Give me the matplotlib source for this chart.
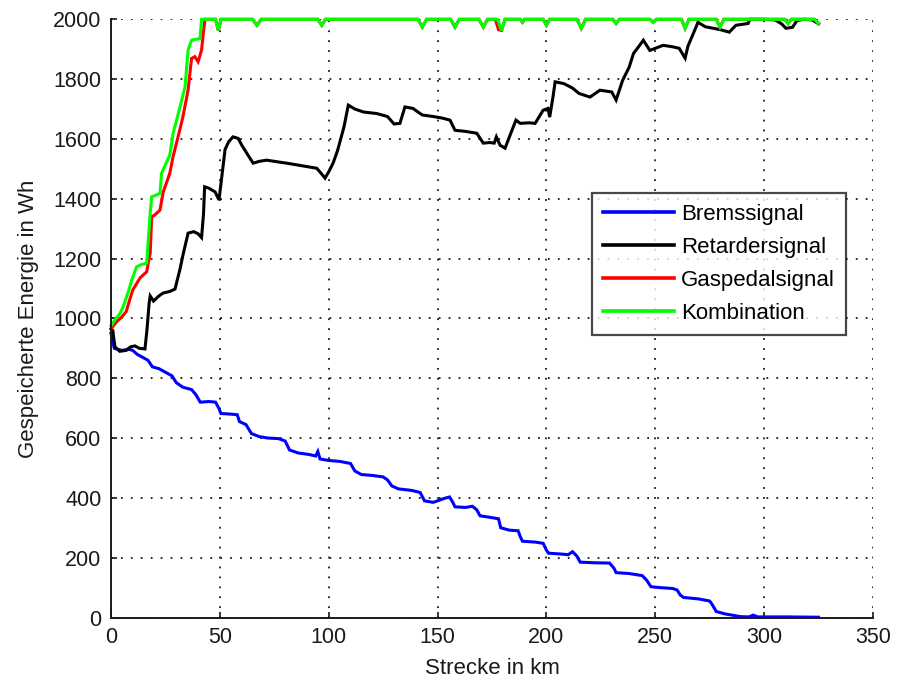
import matplotlib
matplotlib.use("Agg")
import matplotlib.pyplot as plt

plt.rcParams['font.family'] = ['Liberation Sans', 'DejaVu Sans']

# ---- data ----
brems_x = [0, 1.5, 5, 8, 10, 12, 15, 17, 19, 22, 25, 28, 30, 33, 37, 39, 41, 45, 48, 49.5, 50.5,
           55, 58, 59, 62, 64.5, 68, 72, 77, 80, 82, 86, 91, 94, 95, 96, 100, 105, 110, 112, 115,
           120, 125, 127, 129, 132, 138, 142, 144, 148, 150, 153, 155.5, 157, 158, 163, 166, 168,
           169.5, 174, 178, 179, 183, 187, 188, 189, 195, 198.5, 200, 201, 207, 210, 212, 214,
           215.5, 222, 229, 231, 232, 238, 244, 246, 248, 252, 258, 260, 261.5, 263, 270, 275,
           276, 278, 282, 286, 289, 293, 295, 297, 310, 325]
brems_y = [950, 900, 893, 897, 893, 880, 868, 860, 838, 832, 820, 808, 785, 770, 762, 745, 720,
           722, 720, 700, 682, 680, 678, 655, 645, 615, 605, 600, 598, 590, 560, 550, 545, 540,
           555, 530, 525, 522, 515, 490, 478, 475, 470, 460, 440, 430, 425, 418, 390, 385, 390,
           398, 403, 385, 370, 368, 372, 360, 340, 335, 330, 300, 292, 290, 270, 255, 252, 248,
           225, 215, 212, 210, 220, 205, 185, 183, 182, 165, 150, 147, 140, 125, 103, 100, 97,
           92, 75, 67, 62, 55, 45, 20, 12, 7, 3, 2, 8, 2, 2, 1]

retarder_x = [0, 0.8, 1.8, 4, 7, 9, 11, 13, 15.6, 16.5, 17.5, 18, 19.5, 22, 24, 27, 29.4, 30.5,
              31.7, 33, 35.4, 38, 40, 41.6, 42.5, 43, 45, 47.8, 49.6, 50.5, 52.4, 54, 56, 58.4,
              60, 63, 65.3, 68, 71.5, 76, 80.7, 88, 94.5, 96.5, 98.3, 100, 102, 104, 105, 107,
              109, 112, 116, 122, 127, 130, 132.7, 135, 138.7, 141, 143, 148, 152, 155.7, 158,
              163, 168, 171, 174, 176, 177, 178.7, 181, 183, 186, 188, 192, 194.8, 198.5, 200.7,
              201.5, 203, 204, 208, 212, 215, 220, 224.6, 230, 232, 235, 238, 240, 242, 244.5,
              247.5, 253.6, 258, 261, 263.7, 265, 267.5, 269.6, 273, 276.6, 280, 284, 287, 292.6,
              293.5, 300, 305, 308, 310, 313, 315, 318, 322, 325]
retarder_y = [965, 960, 905, 890, 893, 905, 908, 900, 898, 960, 1050, 1075, 1058, 1075, 1085,
              1090, 1098, 1130, 1165, 1210, 1285, 1290, 1283, 1270, 1350, 1440, 1435, 1423, 1396,
              1450, 1565, 1590, 1607, 1602, 1580, 1545, 1519, 1525, 1529, 1524, 1519, 1510, 1502,
              1485, 1469, 1490, 1519, 1560, 1586, 1640, 1713, 1700, 1690, 1685, 1675, 1650, 1652,
              1707, 1702, 1690, 1680, 1675, 1670, 1663, 1629, 1625, 1619, 1586, 1588, 1586, 1607,
              1579, 1569, 1607, 1663, 1652, 1654, 1652, 1696, 1702, 1673, 1740, 1791, 1785, 1770,
              1752, 1740, 1763, 1757, 1730, 1796, 1840, 1886, 1905, 1930, 1896, 1913, 1908, 1903,
              1870, 1910, 1953, 1990, 1975, 1970, 1965, 1957, 1980, 1986, 2000, 2000, 1998, 1985,
              1970, 1973, 1995, 2000, 1998, 1985]

gas_x = [0, 2.6, 5, 7, 8.5, 10, 13.3, 16.4, 17.5, 18, 18.7, 20, 22.5, 24, 27, 28.5, 30.8, 33,
         35.4, 37, 38.5, 40, 41.6, 42.5, 43.2, 48, 49.3, 50.5, 65, 67, 69, 95, 96.8, 98.5, 141,
         143, 145, 156, 158, 160, 169, 171, 173, 176.5, 178, 179.4, 181, 188, 189, 190, 198.5,
         200, 201.5, 214, 216, 218, 230.5, 232, 233.5, 247.5, 249, 250.5, 262, 263.7, 265.5,
         278, 279.7, 281.5, 309.5, 311, 312.5, 323, 325]
gas_y = [965, 989, 1005, 1023, 1060, 1095, 1135, 1156, 1200, 1218, 1340, 1345, 1362, 1423, 1485,
         1540, 1607, 1673, 1763, 1869, 1875, 1858, 1897, 1960, 2000, 2000, 1963, 2000, 2000,
         1980, 2000, 2000, 1980, 2000, 2000, 1974, 2000, 2000, 1974, 2000, 2000, 1974, 2000,
         2000, 1965, 1963, 2000, 2000, 1990, 2000, 2000, 1980, 2000, 2000, 1970, 2000, 2000,
         1986, 2000, 2000, 1990, 2000, 2000, 1970, 2000, 2000, 1974, 2000, 2000, 1986, 2000,
         2000, 1986]

komb_x = [0, 1.8, 4, 5.6, 8, 9.5, 11.8, 14, 16.4, 17.5, 18, 18.7, 20, 22.5, 23.2, 27, 28.5, 31.7,
          34, 35.4, 37, 40.9, 41.6, 48, 49.3, 50.5, 65, 67, 69, 95, 96.8, 98.5, 141, 143, 145,
          156, 158, 160, 169, 171, 173, 177.5, 179.4, 181, 188, 189, 190, 198.5, 200, 201.5,
          214, 216, 218, 230.5, 232, 233.5, 247.5, 249, 250.5, 262, 263.7, 265.5, 278, 279.7,
          281.5, 309.5, 311, 312.5, 323, 325]
komb_y = [975, 995, 1015, 1039, 1090, 1128, 1173, 1180, 1185, 1300, 1352, 1407, 1410, 1418,
          1485, 1546, 1618, 1707, 1774, 1897, 1930, 1936, 2000, 2000, 1963, 2000, 2000, 1980,
          2000, 2000, 1980, 2000, 2000, 1974, 2000, 2000, 1974, 2000, 2000, 1974, 2000, 2000,
          1963, 2000, 2000, 1990, 2000, 2000, 1980, 2000, 2000, 1970, 2000, 2000, 1986, 2000,
          2000, 1990, 2000, 2000, 1970, 2000, 2000, 1974, 2000, 2000, 1986, 2000, 2000, 1986]

labels = ['Bremssignal', 'Retardersignal', 'Gaspedalsignal', 'Kombination']
colors = ['#0000ff', '#000000', '#ff0000', '#00ff00']
x_ticks = [0, 50, 100, 150, 200, 250, 300, 350]
y_ticks = [0, 200, 400, 600, 800, 1000, 1200, 1400, 1600, 1800, 2000]

# ---- figure ----
fig = plt.figure(figsize=(9.01, 6.78), dpi=100)
ax = fig.add_axes([111 / 901, 60.5 / 678, 762 / 901, 598.2 / 678])

series = [(brems_x, brems_y), (retarder_x, retarder_y), (gas_x, gas_y), (komb_x, komb_y)]
for (xs, ys), c, lab in zip(series, colors, labels):
    ax.plot(xs, ys, color=c, lw=2.2, label=lab, clip_on=False, solid_joinstyle='miter')

ax.set_xlim(0, 350)
ax.set_ylim(0, 2000)
ax.set_xticks(x_ticks)
ax.set_yticks(y_ticks)
ax.grid(True, color='0.1', linestyle=(0, (1, 4.5)), linewidth=1.3)
ax.set_axisbelow(True)

for s in ['top', 'right']:
    ax.spines[s].set_visible(False)
for s in ['left', 'bottom']:
    ax.spines[s].set_linewidth(1.4)
    ax.spines[s].set_color('#1a1a1a')

ax.tick_params(direction='in', length=4, width=1.2, labelsize=15.5, colors='#1a1a1a')
ax.tick_params(axis='y', pad=7)
ax.tick_params(axis='x', pad=7)

ax.set_xlabel('Strecke in km', fontsize=16, color='#1a1a1a', labelpad=7)
ax.set_ylabel('Gespeicherte Energie in Wh', fontsize=16, color='#1a1a1a', labelpad=10)

leg = ax.legend(loc='upper left', bbox_to_anchor=(592 / 901, 1 - 193 / 678),
                bbox_transform=fig.transFigure, fontsize=16, frameon=True, fancybox=False,
                handlelength=3.2, handletextpad=0.3, labelspacing=0.54, borderpad=0.5,
                borderaxespad=0, edgecolor='#1a1a1a')
leg.get_frame().set_linewidth(1.6)
for line in leg.get_lines():
    line.set_linewidth(2.6)

fig.savefig('out.png', dpi=100)
